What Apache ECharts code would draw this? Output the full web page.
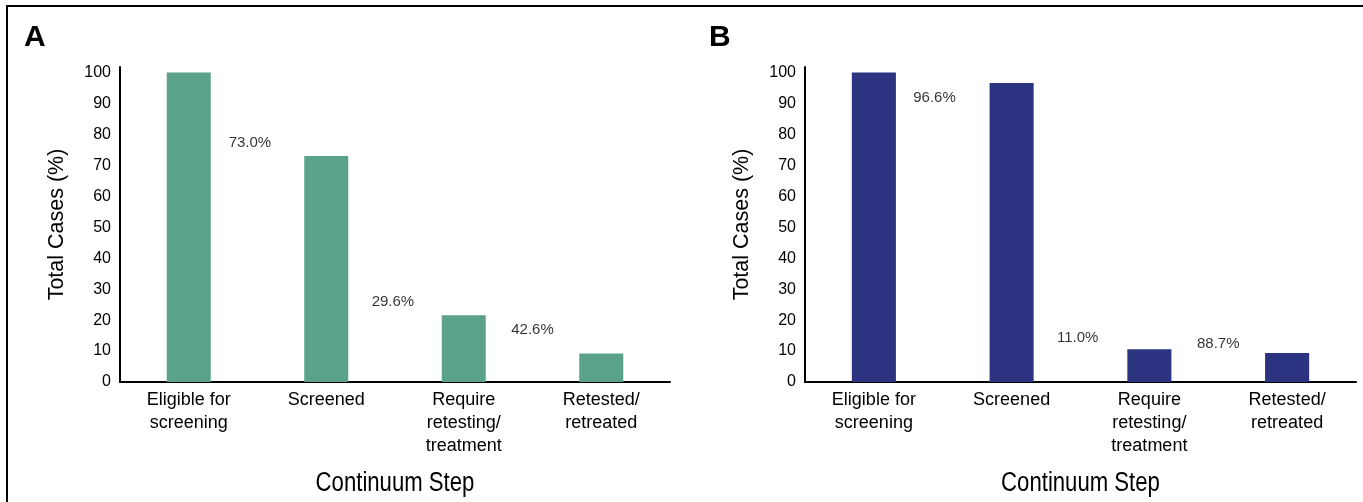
<!DOCTYPE html>
<html>
<head>
<meta charset="utf-8">
<script src="https://cdn.jsdelivr.net/npm/echarts@6/dist/echarts.min.js"></script>
<style>
html,body{margin:0;padding:0;background:#fff;}
#chart{width:1363px;height:502px;}
</style>
</head>
<body>
<div id="chart"></div>
<script>
// ---- data ----
var categories = ['Eligible for\nscreening', 'Screened', 'Require\nretesting/\ntreatment', 'Retested/\nretreated'];
var valuesA = [100, 73.0, 21.6, 9.2];
var valuesB = [100, 96.6, 10.6, 9.4];
var stepLabelsA = ['73.0%', '29.6%', '42.6%'];
var stepLabelsB = ['96.6%', '11.0%', '88.7%'];
var stepLabelXA = [0.945, 1.985, 3.0];
var stepLabelYA = [77.2, 25.9, 16.8];
var stepLabelXB = [0.94, 1.98, 3.0];
var stepLabelYB = [91.8, 14.2, 12.3];
var yTicks = [0, 10, 20, 30, 40, 50, 60, 70, 80, 90, 100];
var panelLetters = ['A', 'B'];
var xTitle = 'Continuum Step';
var yTitle = 'Total Cases (%)';

var SANS = "'Liberation Sans', Arial, Helvetica, sans-serif";
var colorA = '#5aa28a';
var colorB = '#2c3380';

function catAxis(gi) {
  return {
    type: 'category', gridIndex: gi, data: categories,
    axisLine: {show: true, lineStyle: {color: '#000', width: 2}},
    axisTick: {show: false},
    axisLabel: {color: '#000', fontFamily: SANS, fontSize: 18, lineHeight: 23, margin: 7, interval: 0}
  };
}
function valAxisX(gi) {
  return {type: 'value', gridIndex: gi, min: 0, max: 4, show: false};
}
function valAxisY(gi) {
  return {
    type: 'value', gridIndex: gi, min: 0, max: 101.8, interval: 10,
    axisLine: {show: true, lineStyle: {color: '#000', width: 2}},
    axisTick: {show: false},
    splitLine: {show: false},
    axisLabel: {color: '#000', fontFamily: SANS, fontSize: 16, margin: 9, showMaxLabel: false,
      formatter: function (v) { return yTicks.indexOf(v) >= 0 ? String(v) : ''; }},
    name: yTitle, nameLocation: 'middle', nameGap: 63, nameRotate: 90,
    nameTextStyle: {color: '#000', fontFamily: SANS, fontSize: 21.5, verticalAlign: 'middle'}
  };
}
function annot(xs, ys, labels, xi, yi) {
  return {
    type: 'scatter', xAxisIndex: xi, yAxisIndex: yi, symbolSize: 0, silent: true,
    data: labels.map(function (t, i) { return {value: [xs[i], ys[i]], name: t}; }),
    label: {show: true, position: 'inside', formatter: function (p) { return p.name; },
      color: '#000', fontFamily: SANS, fontSize: 15}
  };
}
function xTitleText(cx) {
  return {type: 'text', silent: true, x: cx, y: 484, scaleX: 0.82,
    style: {text: xTitle, fontFamily: SANS, fontSize: 27, fill: '#000', align: 'center', verticalAlign: 'middle'}};
}

var chart = echarts.init(document.getElementById('chart'), null, {renderer: 'canvas'});
chart.setOption({
  animation: false,
  backgroundColor: '#fff',
  grid: [
    {left: 120, right: 693, top: 67, bottom: 120, containLabel: false},
    {left: 805, right: 7, top: 67, bottom: 120, containLabel: false}
  ],
  xAxis: [catAxis(0), catAxis(1), valAxisX(0), valAxisX(1)],
  yAxis: [valAxisY(0), valAxisY(1)],
  series: [
    {type: 'bar', xAxisIndex: 0, yAxisIndex: 0, data: valuesA, barWidth: '32%', itemStyle: {color: colorA}},
    {type: 'bar', xAxisIndex: 1, yAxisIndex: 1, data: valuesB, barWidth: '32%', itemStyle: {color: colorB}},
    annot(stepLabelXA, stepLabelYA, stepLabelsA, 2, 0),
    annot(stepLabelXB, stepLabelYB, stepLabelsB, 3, 1)
  ],
  graphic: [
    {type: 'polyline', silent: true, shape: {points: [[1363, 6], [7, 6], [7, 502]]},
      style: {stroke: '#000', lineWidth: 2, fill: null}},
    {type: 'text', left: 24, top: 23, style: {text: panelLetters[0], fontFamily: SANS, fontWeight: 'bold', fontSize: 30, fill: '#000'}},
    {type: 'text', left: 709, top: 23, style: {text: panelLetters[1], fontFamily: SANS, fontWeight: 'bold', fontSize: 30, fill: '#000'}},
    xTitleText(395),
    xTitleText(1080.5)
  ]
});
</script>
</body>
</html>
